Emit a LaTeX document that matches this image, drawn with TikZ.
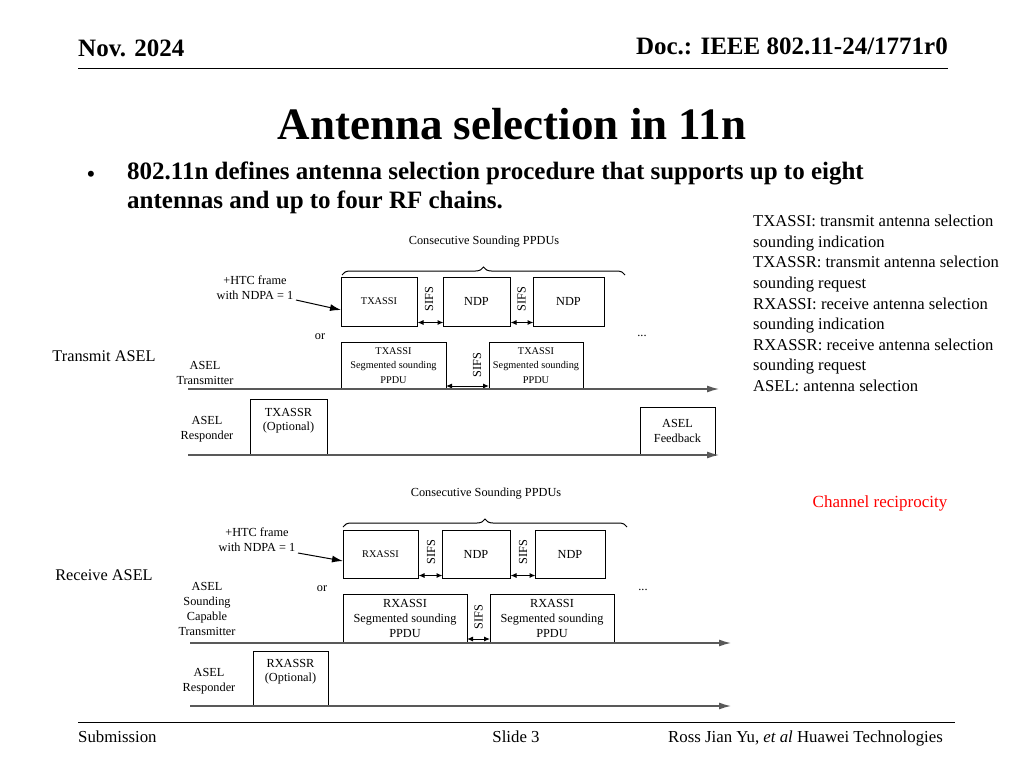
\documentclass[tikz,border=0pt]{standalone}
\usepackage{fontspec}
\setmainfont{Liberation Serif}
\usetikzlibrary{arrows.meta,decorations.pathreplacing}
\begin{document}
\begin{tikzpicture}[x=1pt,y=-1pt,
 sm/.style={font=\fontsize{12.3}{15}\selectfont,align=center,inner sep=0pt},
 fr/.style={draw,line width=1pt,inner sep=0pt,font=\fontsize{12.3}{15}\selectfont,align=center},
 frs/.style={fr,font=\fontsize{10.3}{14.5}\selectfont},
 tl/.style={draw=gray!70!black,line width=1.3pt,-{Latex[length=12pt,width=7pt]}},
 sifs/.style={font=\fontsize{12.3}{14}\selectfont,rotate=90,inner sep=0pt},
 da/.style={{Latex[length=6pt,width=5pt]}-{Latex[length=6pt,width=5pt]},line width=1pt},
 ptr/.style={line width=1pt,-{Latex[length=11pt,width=7pt]}},
 br/.style={decorate,decoration={brace,amplitude=8pt},line width=1pt}]
\useasboundingbox (0,0) rectangle (1024,768);
% header
\node[anchor=west,font=\fontsize{25}{28}\selectfont\bfseries,inner sep=0pt] (hd1) at (78,48) {Nov. 2024};
\node[anchor=east,font=\fontsize{25}{28}\selectfont\bfseries,inner sep=0pt] (hd2) at (948,46) {Doc.: IEEE 802.11-24/1771r0};
\draw[line width=1pt] (78,68) -- (948,68);
\node[font=\fontsize{45}{50}\selectfont\bfseries] (title) at (512,124) {Antenna selection in 11n};
\node[font=\fontsize{25}{28}\selectfont] (bul) at (91,177) {•};
\node[anchor=north west,align=left,font=\fontsize{25}{29}\selectfont\bfseries,inner sep=0pt] (btxt) at (127,162) {802.11n defines antenna selection procedure that supports up to eight\\antennas and up to four RF chains.};
\node[anchor=north west,align=left,font=\fontsize{16.6}{20.6}\selectfont,inner sep=0pt] (legend) at (753,215) {TXASSI: transmit antenna selection\\sounding indication\\TXASSR: transmit antenna selection\\sounding request\\RXASSI: receive antenna selection\\sounding indication\\RXASSR: receive antenna selection\\sounding request\\ASEL: antenna selection};
\node[text=red,font=\fontsize{17}{20}\selectfont] (cr) at (880,503) {Channel reciprocity};
% ===== Transmit ASEL
\node[font=\fontsize{16.3}{18}\selectfont] (tasel) at (104,356) {Transmit ASEL};
\node[sm] (c1) at (484,242) {Consecutive Sounding PPDUs};
\draw[br] (342,275) -- (625,275);
\node[frs,minimum width=76pt,minimum height=49pt] (a1) at (379,301.5) {TXASSI};
\node[fr,minimum width=67pt,minimum height=49pt] (a2) at (476.5,301.5) {NDP};
\node[fr,minimum width=71pt,minimum height=49pt] (a3) at (568.5,301.5) {NDP};
\node[sifs] (s1) at (429,299) {SIFS};
\node[sifs] (s2) at (521.5,299) {SIFS};
\draw[da] (a1.south east)++(0,-4) -- ++(26,0);
\draw[da] (a2.south east)++(0,-4) -- ++(23,0);
\node[sm] (htc) at (255,288) {+HTC frame\\with NDPA = 1};
\draw[ptr] (296,300) -- (341,310);
\node[sm] (or1) at (320,337) {or};
\node[sm] (dd1) at (642,336) {...};
\node[frs,minimum width=105pt,minimum height=47pt] (b1) at (393.5,365.5) {TXASSI\\Segmented sounding\\PPDU};
\node[frs,minimum width=94pt,minimum height=47pt] (b2) at (536,365.5) {TXASSI\\Segmented sounding\\PPDU};
\node[sifs] (s3) at (477,365) {SIFS};
\draw[da] (446,386) -- (489,386);
\node[sm] (tx1) at (205,373) {ASEL\\Transmitter};
\draw[tl] (188,389) -- (719,389);
\node[fr,minimum width=77pt,minimum height=56pt,font=\fontsize{12.3}{14}\selectfont] (r1) at (288.5,427) {TXASSR\\(Optional)\\[2pt]};
\node[fr,minimum width=75pt,minimum height=48pt] (fb) at (677.5,431) {ASEL\\Feedback};
\node[sm] (rs1) at (207,429) {ASEL\\Responder};
\draw[tl] (188,455) -- (719,455);
% ===== Receive ASEL
\node[font=\fontsize{16.3}{18}\selectfont] (rasel) at (104,575) {Receive ASEL};
\node[sm] (c2) at (486,494) {Consecutive Sounding PPDUs};
\draw[br] (343,527) -- (627,527);
\node[frs,minimum width=75pt,minimum height=48pt] (d1) at (380.5,554) {RXASSI};
\node[fr,minimum width=68pt,minimum height=48pt] (d2) at (476,554) {NDP};
\node[fr,minimum width=70pt,minimum height=48pt] (d3) at (570,554) {NDP};
\node[sifs] (s4) at (431,552) {SIFS};
\node[sifs] (s5) at (523,552) {SIFS};
\draw[da] (d1.south east)++(0,-3) -- ++(24,0);
\draw[da] (d2.south east)++(0,-3) -- ++(25,0);
\node[sm] (htc2) at (257,540) {+HTC frame\\with NDPA = 1};
\draw[ptr] (298,553) -- (343,561);
\node[sm] (or2) at (322,589) {or};
\node[sm] (dd2) at (643,590) {...};
\node[fr,minimum width=124pt,minimum height=48pt] (e1) at (405,618) {RXASSI\\Segmented sounding\\PPDU};
\node[fr,minimum width=124pt,minimum height=48pt] (e2) at (552,618) {RXASSI\\Segmented sounding\\PPDU};
\node[sifs] (s6) at (478.5,617) {SIFS};
\draw[da] (467,639) -- (490,639);
\node[sm] (tx2) at (207,609) {ASEL\\Sounding\\Capable\\Transmitter};
\draw[tl] (190,643) -- (731,643);
\node[fr,minimum width=75pt,minimum height=55pt,font=\fontsize{12.3}{14}\selectfont] (r2) at (290.5,678.5) {RXASSR\\(Optional)\\[2pt]};
\node[sm] (rs2) at (209,681) {ASEL\\Responder};
\draw[tl] (190,706) -- (731,706);
% footer
\draw[line width=1pt] (78,722) -- (955,722);
\node[anchor=west,font=\fontsize{16.8}{18}\selectfont,inner sep=0pt] (sub) at (78,737) {Submission};
\node[font=\fontsize{16.8}{18}\selectfont] (sl) at (516,737) {Slide 3};
\node[anchor=east,font=\fontsize{16.8}{18}\selectfont,inner sep=0pt] (au) at (943,738) {Ross Jian Yu, \emph{et al} Huawei Technologies};
\end{tikzpicture}
\end{document}
